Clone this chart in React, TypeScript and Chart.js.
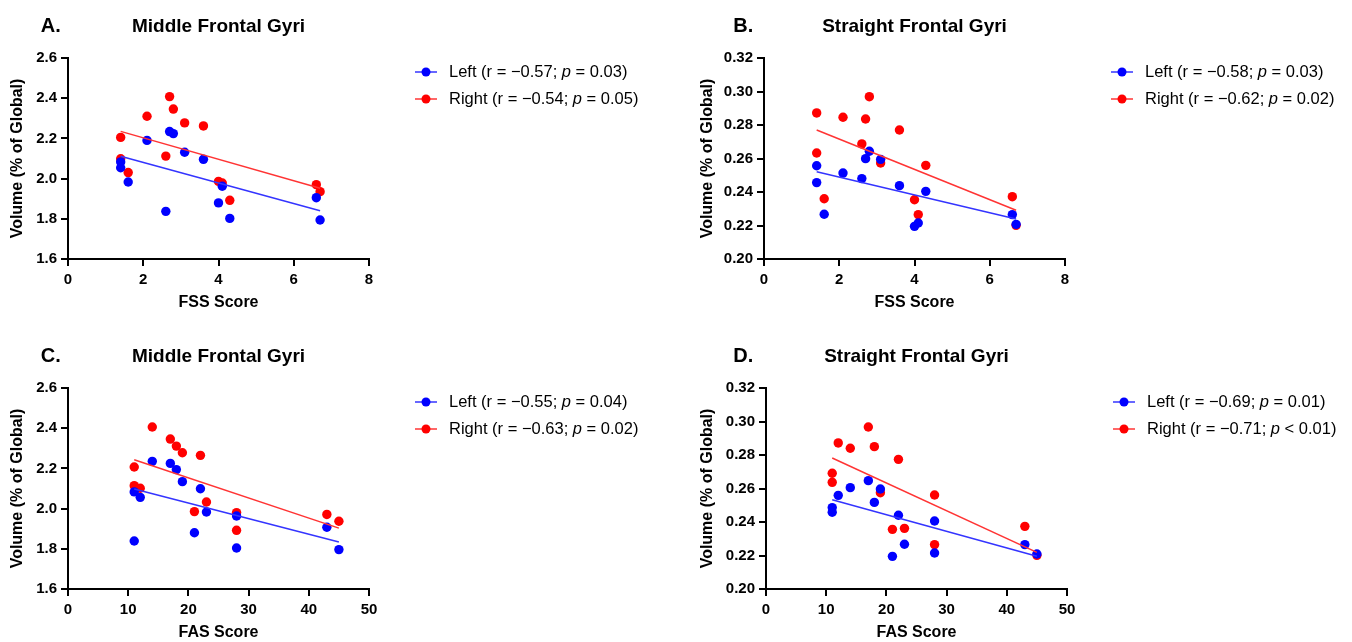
import React, { useEffect, useRef } from 'react';
import { Chart, registerables } from 'chart.js';

Chart.register(...registerables);

const FONT = '"Liberation Sans", Arial, Helvetica, sans-serif';
const BLUE = '#0000ff';
const RED = '#ff0000';
const BLUE_LINE = '#3434ff';
const RED_LINE = '#ff3434';

// ---------- data ----------
const fssScore = [1.4, 1.4, 1.6, 2.1, 2.6, 2.7, 2.8, 3.1, 3.6, 4.0, 4.1, 4.3, 6.6, 6.7];
const fasScore = [11, 11, 12, 14, 17, 18, 19, 21, 22, 23, 28, 28, 43, 45];

// A. Middle Frontal Gyri vs FSS
const mfgLeftFss = [2.083, 2.054, 1.983, 2.19, 1.837, 2.234, 2.224, 2.131, 2.096, 1.879, 1.962, 1.802, 1.905, 1.794];
const mfgRightFss = [2.205, 2.099, 2.03, 2.31, 2.112, 2.408, 2.346, 2.277, 2.262, 1.986, 1.978, 1.892, 1.97, 1.935];
const mfgFssFitX = [1.4, 6.7];
const mfgFssFitLeft = [2.111, 1.84];
const mfgFssFitRight = [2.235, 1.952];

// B. Straight Frontal Gyri vs FSS
const sfgLeftFss = [0.2557, 0.2456, 0.2267, 0.2513, 0.248, 0.2599, 0.2643, 0.2595, 0.2438, 0.2195, 0.2215, 0.2404, 0.2265, 0.2207];
const sfgRightFss = [0.2872, 0.2633, 0.236, 0.2846, 0.2687, 0.2836, 0.2969, 0.2573, 0.277, 0.2354, 0.2265, 0.2559, 0.2372, 0.2201];
const sfgFssFitX = [1.4, 6.7];
const sfgFssFitLeft = [0.2521, 0.2239];
const sfgFssFitRight = [0.277, 0.2291];

// C. Middle Frontal Gyri vs FAS
const mfgLeftFas = [2.083, 1.839, 2.056, 2.235, 2.225, 2.194, 2.134, 1.88, 2.099, 1.983, 1.963, 1.804, 1.907, 1.796];
const mfgRightFas = [2.207, 2.114, 2.101, 2.406, 2.346, 2.311, 2.278, 1.985, 2.265, 2.033, 1.98, 1.892, 1.971, 1.937];
const mfgFasFitX = [11, 45];
const mfgFasFitLeft = [2.098, 1.834];
const mfgFasFitRight = [2.243, 1.903];

// D. Straight Frontal Gyri vs FAS
const sfgLeftFas = [0.2486, 0.2458, 0.2559, 0.2605, 0.2647, 0.2517, 0.2597, 0.2195, 0.244, 0.2267, 0.2406, 0.2215, 0.2265, 0.2209];
const sfgRightFas = [0.2691, 0.2637, 0.2872, 0.284, 0.2967, 0.285, 0.2575, 0.2356, 0.2774, 0.2362, 0.2561, 0.2265, 0.2374, 0.2201];
const sfgFasFitX = [11, 45];
const sfgFasFitLeft = [0.2533, 0.2195];
const sfgFasFitRight = [0.2782, 0.2219];

// legend statistics
const legendA = [['−0.57', '= 0.03'], ['−0.54', '= 0.05']];
const legendB = [['−0.58', '= 0.03'], ['−0.62', '= 0.02']];
const legendC = [['−0.55', '= 0.04'], ['−0.63', '= 0.02']];
const legendD = [['−0.69', '= 0.01'], ['−0.71', '< 0.01']];

// ---------- layout ----------
type PanelCfg = {
  letter: string;
  title: string;
  xTitle: string;
  xs: number[];
  left: number[];
  right: number[];
  fitX: number[];
  fitLeft: number[];
  fitRight: number[];
  xMin: number; xMax: number; xStep: number;
  yMin: number; yMax: number; yStep: number; yDec: number;
  legend: string[][];
  pos: { left: number; top: number; width: number; height: number };
  yWidth: number; padRight: number; padTop: number; padBottom: number; letterX: number;
};

const pts = (xs: number[], ys: number[]) => xs.map((x, i) => ({ x, y: ys[i] }));

const panels: PanelCfg[] = [
  {
    letter: 'A.', title: 'Middle Frontal Gyri', xTitle: 'FSS Score',
    xs: fssScore, left: mfgLeftFss, right: mfgRightFss,
    fitX: mfgFssFitX, fitLeft: mfgFssFitLeft, fitRight: mfgFssFitRight,
    xMin: 0, xMax: 8, xStep: 2, yMin: 1.6, yMax: 2.6, yStep: 0.2, yDec: 1,
    legend: legendA,
    pos: { left: 0, top: 0, width: 690, height: 320 },
    yWidth: 68, padRight: 321, padTop: 58, padBottom: 8, letterX: 40.7,
  },
  {
    letter: 'B.', title: 'Straight Frontal Gyri', xTitle: 'FSS Score',
    xs: fssScore, left: sfgLeftFss, right: sfgRightFss,
    fitX: sfgFssFitX, fitLeft: sfgFssFitLeft, fitRight: sfgFssFitRight,
    xMin: 0, xMax: 8, xStep: 2, yMin: 0.2, yMax: 0.32, yStep: 0.02, yDec: 2,
    legend: legendB,
    pos: { left: 690, top: 0, width: 662, height: 320 },
    yWidth: 74, padRight: 287, padTop: 58, padBottom: 8, letterX: 43.3,
  },
  {
    letter: 'C.', title: 'Middle Frontal Gyri', xTitle: 'FAS Score',
    xs: fasScore, left: mfgLeftFas, right: mfgRightFas,
    fitX: mfgFasFitX, fitLeft: mfgFasFitLeft, fitRight: mfgFasFitRight,
    xMin: 0, xMax: 50, xStep: 10, yMin: 1.6, yMax: 2.6, yStep: 0.2, yDec: 1,
    legend: legendC,
    pos: { left: 0, top: 320, width: 690, height: 322 },
    yWidth: 68, padRight: 321, padTop: 68, padBottom: 0, letterX: 40.7,
  },
  {
    letter: 'D.', title: 'Straight Frontal Gyri', xTitle: 'FAS Score',
    xs: fasScore, left: sfgLeftFas, right: sfgRightFas,
    fitX: sfgFasFitX, fitLeft: sfgFasFitLeft, fitRight: sfgFasFitRight,
    xMin: 0, xMax: 50, xStep: 10, yMin: 0.2, yMax: 0.32, yStep: 0.02, yDec: 2,
    legend: legendD,
    pos: { left: 690, top: 320, width: 662, height: 322 },
    yWidth: 76, padRight: 285, padTop: 68, padBottom: 0, letterX: 43.3,
  },
];

function Panel({ cfg }: { cfg: PanelCfg }) {
  const ref = useRef<HTMLCanvasElement | null>(null);

  useEffect(() => {
    const canvas = ref.current;
    if (!canvas) return;

    const decor = {
      id: 'decor',
      afterDraw(chart: any) {
        const ctx: CanvasRenderingContext2D = chart.ctx;
        const ca = chart.chartArea;
        ctx.save();
        ctx.fillStyle = '#000';
        ctx.textBaseline = 'alphabetic';
        ctx.textAlign = 'left';
        ctx.font = `bold 20px ${FONT}`;
        ctx.fillText(cfg.letter, cfg.letterX, ca.top - 26.5);
        ctx.textAlign = 'center';
        ctx.font = `bold 19px ${FONT}`;
        ctx.fillText(cfg.title, (ca.left + ca.right) / 2, ca.top - 26.5);

        const names = ['Left', 'Right'];
        const colors = [BLUE, RED];
        const lineColors = [BLUE_LINE, RED_LINE];
        cfg.legend.forEach((stat, i) => {
          const y = ca.top + 14 + i * 27;
          ctx.strokeStyle = lineColors[i];
          ctx.lineWidth = 1.5;
          ctx.beginPath();
          ctx.moveTo(ca.right + 46, y);
          ctx.lineTo(ca.right + 68, y);
          ctx.stroke();
          ctx.fillStyle = colors[i];
          ctx.beginPath();
          ctx.arc(ca.right + 57, y, 4.5, 0, Math.PI * 2);
          ctx.fill();
          ctx.fillStyle = '#000';
          ctx.textAlign = 'left';
          ctx.textBaseline = 'middle';
          const segs = [
            { t: `${names[i]} (r = ${stat[0]}; `, it: false },
            { t: 'p', it: true },
            { t: ` ${stat[1]})`, it: false },
          ];
          let x = ca.right + 80;
          for (const s of segs) {
            ctx.font = `${s.it ? 'italic ' : ''}16.5px ${FONT}`;
            ctx.fillText(s.t, x, y);
            x += ctx.measureText(s.t).width;
          }
        });
        ctx.restore();
      },
    };

    const tickFont = { family: FONT, size: 15, weight: 'bold' as const };
    const titleFont = { family: FONT, size: 16, weight: 'bold' as const };
    const grid = { drawOnChartArea: false, drawTicks: true, tickLength: 7, color: '#000', lineWidth: 2 };
    const border = { display: true, color: '#000', width: 2 };

    const chart = new Chart(canvas, {
      type: 'scatter',
      data: {
        datasets: [
          { label: 'Left fit', data: pts(cfg.fitX, cfg.fitLeft), showLine: true, borderColor: BLUE_LINE, borderWidth: 1.5, pointRadius: 0, fill: false },
          { label: 'Right fit', data: pts(cfg.fitX, cfg.fitRight), showLine: true, borderColor: RED_LINE, borderWidth: 1.5, pointRadius: 0, fill: false },
          { label: 'Left', data: pts(cfg.xs, cfg.left), backgroundColor: BLUE, borderColor: BLUE, borderWidth: 0, pointRadius: 4.7 },
          { label: 'Right', data: pts(cfg.xs, cfg.right), backgroundColor: RED, borderColor: RED, borderWidth: 0, pointRadius: 4.7 },
        ],
      },
      options: {
        responsive: false,
        animation: false,
        devicePixelRatio: 1,
        layout: { padding: { left: 0, right: cfg.padRight, top: cfg.padTop, bottom: cfg.padBottom } },
        plugins: { legend: { display: false }, tooltip: { enabled: false }, title: { display: false } },
        scales: {
          x: {
            type: 'linear',
            min: cfg.xMin, max: cfg.xMax,
            ticks: { stepSize: cfg.xStep, color: '#000', font: tickFont, padding: 5, maxRotation: 0, autoSkip: false },
            grid, border,
            title: { display: true, text: cfg.xTitle, color: '#000', font: titleFont, padding: { top: 0, bottom: 0 } },
            afterFit: (s: any) => { s.height = 53; },
          },
          y: {
            type: 'linear',
            min: cfg.yMin, max: cfg.yMax,
            ticks: {
              stepSize: cfg.yStep, color: '#000', font: tickFont, padding: 4, autoSkip: false,
              callback: (v: any) => Number(v).toFixed(cfg.yDec),
            },
            grid, border,
            title: { display: true, text: 'Volume (% of Global)', color: '#000', font: titleFont, padding: { top: 7.5, bottom: 0 } },
            afterFit: (s: any) => { s.width = cfg.yWidth; },
          },
        },
      },
      plugins: [decor],
    } as any);

    return () => chart.destroy();
  }, [cfg]);

  return (
    <canvas
      ref={ref}
      width={cfg.pos.width}
      height={cfg.pos.height}
      style={{ position: 'absolute', left: cfg.pos.left, top: cfg.pos.top, width: cfg.pos.width, height: cfg.pos.height }}
    />
  );
}

export default function App() {
  return (
    <div style={{ position: 'absolute', left: 0, top: 0, width: 1352, height: 642, background: '#fff', overflow: 'hidden' }}>
      {panels.map((p) => (
        <Panel key={p.letter} cfg={p} />
      ))}
    </div>
  );
}
